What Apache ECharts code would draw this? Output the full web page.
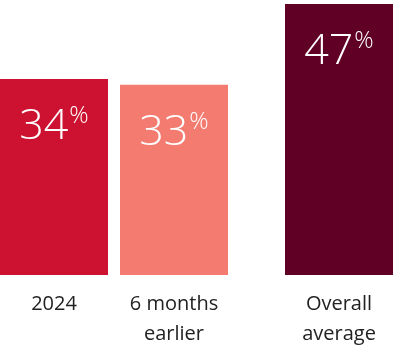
<!DOCTYPE html>
<html>
<head>
<meta charset="utf-8">
<script src="https://cdn.jsdelivr.net/npm/echarts@6/dist/echarts.min.js"></script>
<style>
html,body{margin:0;padding:0;background:#fff;}
#chart{width:394px;height:348px;}
</style>
</head>
<body>
<div id="chart"></div>
<script>
const categories = ['2024', '6 months earlier', 'Overall average'];
const tickLabels = ['2024', '6 months\nearlier', 'Overall\naverage'];
const values = [34, 33, 47];
const colors = ['#cc1230', '#f37b70', '#600024'];

const chart = echarts.init(document.getElementById('chart'), null, {renderer: 'canvas'});

const labelStyle = {
  show: true,
  position: 'insideTop',
  distance: 25,
  formatter: p => '{n|' + p.value + '}{p|%}',
  rich: {
    n: {fontFamily: 'Open Sans', fontWeight: 300, fontSize: 43, color: '#fff', lineHeight: 46},
    p: {fontFamily: 'Open Sans', fontWeight: 300, fontSize: 24, color: '#fff', verticalAlign: 'top', lineHeight: 24, padding: [0, 0, 0, 1]}
  }
};

const axisLabelStyle = {
  color: '#222',
  fontFamily: 'Open Sans',
  fontSize: 20,
  lineHeight: 30,
  margin: 14,
  interval: 0,
  formatter: v => tickLabels[categories.indexOf(v)]
};

function mkData(idx) {
  return idx.map(i => ({value: values[i], itemStyle: {color: colors[i]}}));
}

chart.setOption({
  animation: false,
  grid: [
    {left: -6, width: 240, top: 4, height: 271, outerBoundsMode: 'none', containLabel: false},
    {left: 279, width: 120, top: 4, height: 271, outerBoundsMode: 'none', containLabel: false}
  ],
  xAxis: [
    {type: 'category', gridIndex: 0, data: categories.slice(0, 2), axisLine: {show: false}, axisTick: {show: false}, axisLabel: axisLabelStyle},
    {type: 'category', gridIndex: 1, data: categories.slice(2), axisLine: {show: false}, axisTick: {show: false}, axisLabel: axisLabelStyle}
  ],
  yAxis: [
    {type: 'value', gridIndex: 0, min: 0, max: 47, show: false, splitLine: {show: false}},
    {type: 'value', gridIndex: 1, min: 0, max: 47, show: false, splitLine: {show: false}}
  ],
  series: [
    {type: 'bar', xAxisIndex: 0, yAxisIndex: 0, barWidth: 108, data: mkData([0, 1]), label: labelStyle},
    {type: 'bar', xAxisIndex: 1, yAxisIndex: 1, barWidth: 108, data: mkData([2]), label: labelStyle}
  ]
});
</script>
</body>
</html>
